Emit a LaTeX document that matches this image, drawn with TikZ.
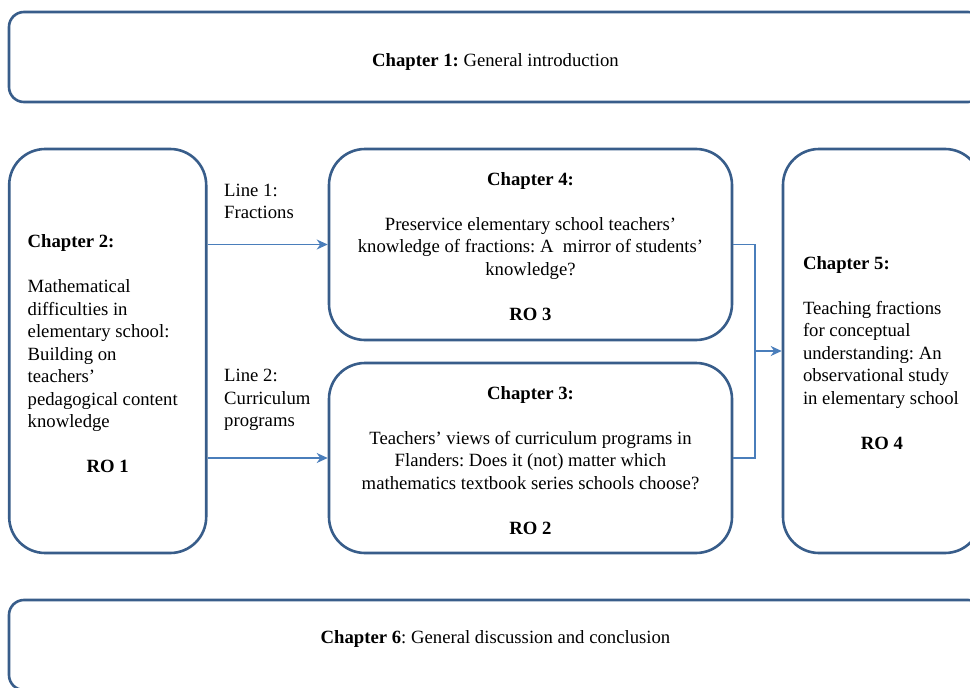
\documentclass[tikz,border=0pt]{standalone}
\usepackage{fontspec}
\setmainfont{Liberation Serif}
\usetikzlibrary{arrows.meta}
\definecolor{boxblue}{RGB}{56,93,138}
\definecolor{arrblue}{RGB}{74,126,187}
\frenchspacing
\newcommand{\natsp}{\spaceskip=0pt\xspaceskip=0pt\relax}
\begin{document}
\begin{tikzpicture}[x=1pt,y=-1pt,
  every node/.style={font=\fontsize{18.7}{22.5}\selectfont},
  chbox/.style={draw=boxblue, line width=2.6pt, fill=white, rounded corners=36pt, inner sep=0pt},
  wide/.style={chbox, rounded corners=15pt, minimum width=974pt, minimum height=90pt},
  conn/.style={draw=arrblue, line width=1.3pt},
  arr/.style={conn, -{Stealth[length=11pt,width=10pt,inset=3.5pt]}},
  sidetext/.style={inner sep=0pt},
  lbl/.style={align=left, inner sep=0pt, anchor=north west}]
\useasboundingbox (0,0) rectangle (970,688);
\clip (0,0) rectangle (970,688);
\fill[white] (0,0) rectangle (970,688);

% boxes
\node[wide] (ch1) at (496,57) {};
\node[chbox, minimum width=197pt, minimum height=404pt] (ch2) at (107.7,351) {};
\node[chbox, minimum width=403pt, minimum height=191pt] (ch4) at (530.5,244.5) {};
\node[chbox, minimum width=403pt, minimum height=190pt] (ch3) at (530.5,458) {};
\node[chbox, minimum width=198pt, minimum height=404pt] (ch5) at (882,351) {};
\node[wide] (ch6) at (496,645) {};

% texts
\node (ch1t) at (495.5,61.8) {\textbf{Chapter 1:} General introduction};

\node[sidetext, text width=160pt] (ch2t) at (107.7,354)
  {\natsp\raggedright\textbf{Chapter 2:}\\[22.5pt]Mathematical\\difficulties in\\elementary school:\\Building on\\teachers'\\pedagogical content\\knowledge\\[22.5pt]\makebox[160pt][c]{\textbf{RO 1}}};

\node[sidetext, align=center] (ch4t) at (530.5,246.5)
  {\textbf{Chapter 4:}\\[22.5pt]Preservice elementary school teachers'\\knowledge of fractions: A\ \ mirror of students'\\knowledge?\\[22.5pt]\textbf{RO 3}};

\node[sidetext, align=center] (ch3t) at (530.5,460.5)
  {\textbf{Chapter 3:}\\[22.5pt]Teachers' views of curriculum programs in\\Flanders: Does it (not) matter which\\mathematics textbook series schools choose?\\[22.5pt]\textbf{RO 2}};

\node[sidetext, text width=158pt] (ch5t) at (882,353)
  {\natsp\raggedright\textbf{Chapter 5:}\\[22.5pt]Teaching fractions\\for conceptual\\understanding: An\\observational study\\in elementary school\\[22.5pt]\makebox[158pt][c]{\textbf{RO 4}}};

\node (ch6t) at (495.5,639) {\textbf{Chapter 6}: General discussion and conclusion};

\node[lbl] (l1) at (224,183.8) {Line 1:\\Fractions};
\node[lbl] (l2) at (224,369) {Line 2:\\Curriculum\\programs};

% connectors
\draw[arr] (ch2.east |- ch4.west) -- (ch4.west);
\draw[arr] (ch2.east |- ch3.west) -- (ch3.west);
\coordinate (j) at (755,351);
\draw[conn] (ch4.east) -| (j) |- (ch3.east);
\draw[arr] (j) -- (ch5.west);
\end{tikzpicture}
\end{document}
